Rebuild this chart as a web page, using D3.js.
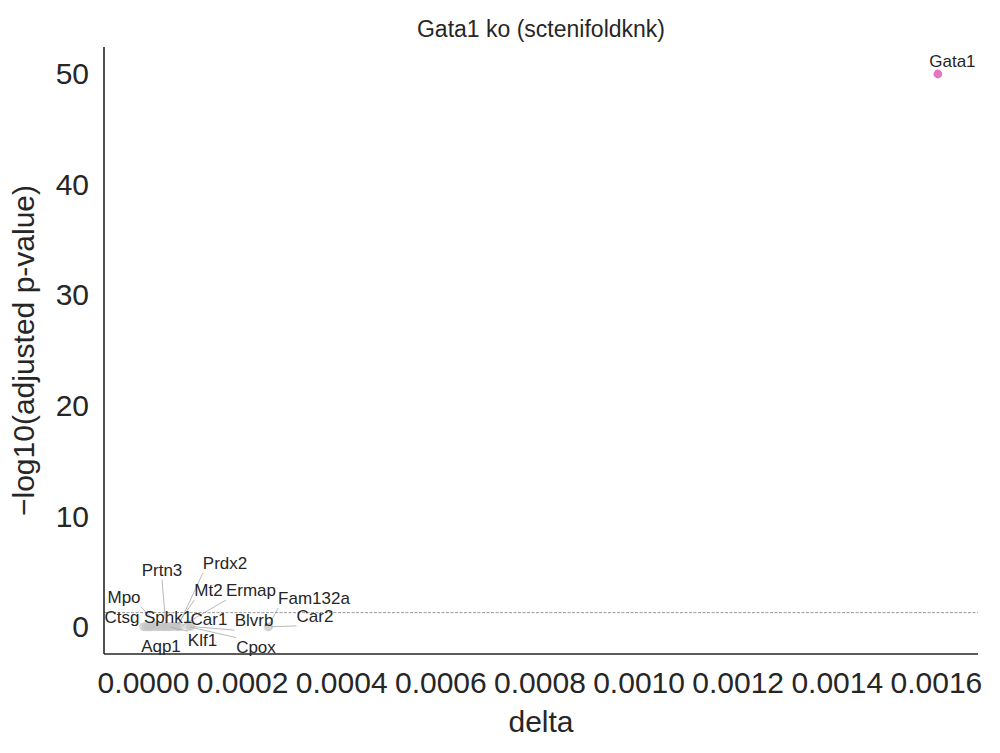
<!DOCTYPE html>
<html>
<head>
<meta charset="utf-8">
<script src="https://cdn.jsdelivr.net/npm/d3@7"></script>
<style>
  body { margin: 0; background: #fff; }
  text { font-family: "Liberation Sans", Arial, sans-serif; fill: #262626; }
</style>
</head>
<body>
<div id="chart"></div>
<script>
// labelled genes
var genes   = ["Gata1", "Prtn3", "Prdx2", "Mt2", "Ermap", "Fam132a", "Car2", "Mpo",
               "Ctsg", "Sphk1", "Car1", "Blvrb", "Aqp1", "Klf1", "Cpox"];
var delta   = [0.001604, 0.0000464, 0.0000706, 0.0000666, 0.0000747, 0.000252, 0.000254, 0.0000343,
               0.0000141, 0.0000565, 0.0000948, 0.0000968, 0.0000424, 0.0000504, 0.0000908];
var negLogP = [50.0, 0.04, 0.03, 0.05, 0.02, 0.0, 0.01, 0.03,
               0.02, 0.04, 0.06, 0.05, 0.03, 0.02, 0.04];

// remaining genes (not labelled)
var otherDelta   = [0.0000010, 0.0000035, 0.0000070, 0.0000105, 0.0000150, 0.0000190,
                    0.0000230, 0.0000270, 0.0000310, 0.0000390, 0.0000440, 0.0000530,
                    0.0000610, 0.0000680];
var otherNegLogP = [0.02, 0.03, 0.01, 0.04, 0.02, 0.03, 0.05, 0.02, 0.03, 0.01, 0.04, 0.03, 0.02, 0.05];

var xTicks = [0, 0.0002, 0.0004, 0.0006, 0.0008, 0.0010, 0.0012, 0.0014, 0.0016];
var yTicks = [0, 10, 20, 30, 40, 50];
var threshold = -Math.log10(0.05);
var highlight = "Gata1";

// where the labels ended up after repelling (data units)
var labelDelta   = [0.0016334, 0.0000383, 0.0001655, 0.0001322, 0.0002179, 0.0003450, 0.0003470, -0.0000383,
                    -0.0000424, 0.0000505, 0.0001331, 0.0002240, 0.0000363, 0.0001201, 0.0002280];
var labelNegLogP = [51.18, 5.20, 5.79, 3.35, 3.35, 2.62, 1.02, 2.76,
                    0.90, 0.90, 0.77, 0.63, -1.72, -1.18, -1.76];

var svgWidth = 1000;
var svgHeight = 753;

var plot = { left: 104, right: 978, top: 47, bottom: 654 };

var svg = d3.select("#chart")
    .append("svg")
    .attr("width", svgWidth)
    .attr("height", svgHeight);

var x = d3.scaleLinear()
    .domain([-0.0000787, 0.001685])
    .range([plot.left, plot.right]);

var y = d3.scaleLinear()
    .domain([-2.44, 52.44])
    .range([plot.bottom, plot.top]);

// axes (no tick marks, seaborn white style)
var xAxis = svg.append("g")
    .attr("transform", "translate(0," + plot.bottom + ")")
    .call(d3.axisBottom(x).tickValues(xTicks).tickFormat(d3.format(".4f")).tickSize(0).tickPadding(18));

var yAxis = svg.append("g")
    .attr("transform", "translate(" + plot.left + ",0)")
    .call(d3.axisLeft(y).tickValues(yTicks).tickSize(0).tickPadding(15));

[xAxis, yAxis].forEach(function(g) {
    g.select(".domain").remove();
    g.selectAll("text")
        .style("font-size", "30px")
        .attr("fill", "#262626");
});

// threshold line
svg.append("line")
    .attr("x1", plot.left)
    .attr("x2", plot.right)
    .attr("y1", y(threshold))
    .attr("y2", y(threshold))
    .attr("stroke", "#808080")
    .attr("stroke-width", 0.8)
    .attr("stroke-dasharray", "3,1.5");

// spines
svg.append("line")
    .attr("x1", plot.left).attr("x2", plot.left)
    .attr("y1", plot.top).attr("y2", plot.bottom)
    .attr("stroke", "#262626").attr("stroke-width", 1.6);
svg.append("line")
    .attr("x1", plot.left).attr("x2", plot.right)
    .attr("y1", plot.bottom).attr("y2", plot.bottom)
    .attr("stroke", "#262626").attr("stroke-width", 1.6);

// points
var points = [];
otherDelta.forEach(function(d, i) {
    points.push({ gene: "", delta: d, p: otherNegLogP[i] });
});
genes.forEach(function(g, i) {
    points.push({ gene: g, delta: delta[i], p: negLogP[i] });
});

svg.append("g")
    .selectAll("circle")
    .data(points)
    .enter()
    .append("circle")
        .attr("cx", function(d) { return x(d.delta); })
        .attr("cy", function(d) { return y(d.p); })
        .attr("r", 4.4)
        .attr("fill", function(d) { return d.gene === highlight ? "#e377c2" : "#c4c4c4"; })
        .attr("fill-opacity", function(d) { return d.gene === highlight ? 1 : 0.5; });

// labels + connectors
var lineLayer = svg.append("g");
var labelLayer = svg.append("g");

genes.forEach(function(g, i) {
    var t = labelLayer.append("text")
        .attr("x", x(labelDelta[i]))
        .attr("y", y(labelNegLogP[i]))
        .attr("dy", "0.36em")
        .attr("text-anchor", "middle")
        .style("font-size", "17px")
        .text(g);

    var b = t.node().getBBox();
    var px = x(delta[i]), py = y(negLogP[i]);

    // start on the bbox anchor nearest the point (like matplotlib annotate)
    var xs = [b.x, b.x + b.width / 2, b.x + b.width];
    var ys = [b.y, b.y + b.height / 2, b.y + b.height];
    var sx = xs.reduce(function(a, c) { return Math.abs(c - px) < Math.abs(a - px) ? c : a; });
    var sy = ys.reduce(function(a, c) { return Math.abs(c - py) < Math.abs(a - py) ? c : a; });

    // clip to outside the bbox
    var dx = px - sx, dyv = py - sy;
    var tmin = 0;
    if (dx !== 0) {
        [b.x, b.x + b.width].forEach(function(ex) {
            var tt = (ex - sx) / dx;
            var yy = sy + tt * dyv;
            if (tt > tmin && tt < 1 && yy >= b.y - 0.01 && yy <= b.y + b.height + 0.01) tmin = tt;
        });
    }
    if (dyv !== 0) {
        [b.y, b.y + b.height].forEach(function(ey) {
            var tt = (ey - sy) / dyv;
            var xx = sx + tt * dx;
            if (tt > tmin && tt < 1 && xx >= b.x - 0.01 && xx <= b.x + b.width + 0.01) tmin = tt;
        });
    }
    var x1 = sx + tmin * dx, y1 = sy + tmin * dyv;
    var len = Math.hypot(px - x1, py - y1);
    if (len < 14) return;
    var shrink = 2.5 / len;
    lineLayer.append("line")
        .attr("x1", x1).attr("y1", y1)
        .attr("x2", px - (px - x1) * shrink).attr("y2", py - (py - y1) * shrink)
        .attr("stroke", "#a6a6a6")
        .attr("stroke-width", 0.8);
});

// titles
svg.append("text")
    .attr("x", (plot.left + plot.right) / 2)
    .attr("y", 37)
    .attr("text-anchor", "middle")
    .style("font-size", "23px")
    .text("Gata1 ko (sctenifoldknk)");

svg.append("text")
    .attr("x", (plot.left + plot.right) / 2)
    .attr("y", 732)
    .attr("text-anchor", "middle")
    .style("font-size", "30px")
    .text("delta");

svg.append("text")
    .attr("transform", "translate(34," + (plot.top + plot.bottom) / 2 + ") rotate(-90)")
    .attr("text-anchor", "middle")
    .style("font-size", "30px")
    .text("\u2212log10(adjusted p-value)");
</script>
</body>
</html>
